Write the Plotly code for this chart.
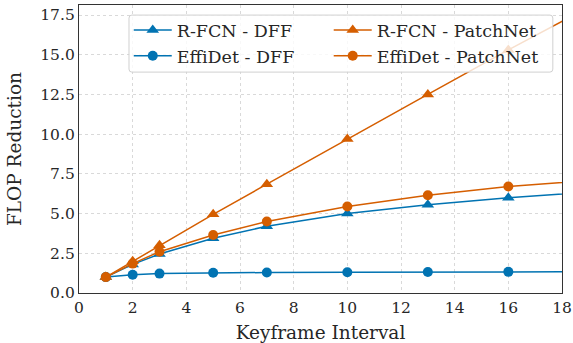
import plotly.graph_objects as go

x_vals = [1, 2, 3, 5, 7, 10, 13, 16, 20]
rfcn_dff = [1.0, 1.8, 2.45, 3.45, 4.2, 5.0, 5.55, 6.0, 6.45]
effidet_dff = [1.0, 1.15, 1.22, 1.27, 1.29, 1.31, 1.32, 1.33, 1.34]
rfcn_patchnet = [1.0, 2.0, 3.0, 4.95, 6.85, 9.7, 12.5, 15.3, 18.9]
effidet_patchnet = [1.0, 1.85, 2.6, 3.65, 4.5, 5.45, 6.15, 6.7, 7.2]

x_ticks = [0, 2, 4, 6, 8, 10, 12, 14, 16, 18]
y_ticks = [0, 2.5, 5.0, 7.5, 10.0, 12.5, 15.0, 17.5]

BLUE = "#0173b2"
ORANGE = "#d55e00"

fig = go.Figure()
series = [
    ("R-FCN - DFF", rfcn_dff, BLUE, "triangle-up", "legend"),
    ("EffiDet - DFF", effidet_dff, BLUE, "circle", "legend"),
    ("R-FCN - PatchNet", rfcn_patchnet, ORANGE, "triangle-up", "legend2"),
    ("EffiDet - PatchNet", effidet_patchnet, ORANGE, "circle", "legend2"),
]
for name, ys, col, sym, leg in series:
    fig.add_trace(go.Scatter(
        x=x_vals, y=ys, name=name, mode="lines+markers", legend=leg,
        line=dict(color=col, width=1.5),
        marker=dict(symbol=sym, size=10 if sym == "circle" else 11, color=col),
    ))

FF = "DejaVu Serif"
TXT = "#262626"
leg_common = dict(
    orientation="v", yanchor="top", xanchor="left", y=0.975,
    bgcolor="rgba(0,0,0,0)", borderwidth=0, itemwidth=38,
    font=dict(size=17.5, family=FF, color=TXT), tracegroupgap=0,
)

# legend frame (semi-transparent, rounded)
x0, x1, y0, y1 = 0.1035, 0.981, 0.767, 0.965
rx, ry = 0.006, 0.0104
frame_path = (f"M {x0+rx},{y1} L {x1-rx},{y1} Q {x1},{y1} {x1},{y1-ry} "
              f"L {x1},{y0+ry} Q {x1},{y0} {x1-rx},{y0} L {x0+rx},{y0} "
              f"Q {x0},{y0} {x0},{y0+ry} L {x0},{y1-ry} Q {x0},{y1} {x0+rx},{y1} Z")

fig.update_layout(
    width=573, height=343,
    margin=dict(l=79, r=11, t=5, b=50, autoexpand=False),
    paper_bgcolor="white", plot_bgcolor="white",
    font=dict(family=FF, size=15, color=TXT),
    legend=dict(x=0.103, **leg_common),
    legend2=dict(x=0.517, **leg_common),
    shapes=[dict(type="path", path=frame_path, xref="paper", yref="paper", layer="above",
                 fillcolor="rgba(255,255,255,0.8)", line=dict(color="#d0d0d0", width=1))],
    xaxis=dict(
        range=[0, 18], tickvals=x_ticks, automargin=False,
        title=dict(text="Keyframe Interval", font=dict(size=18.5, family=FF, color=TXT), standoff=11),
        showgrid=True, gridcolor="#d9d9d9", griddash="dot", gridwidth=1,
        showline=True, linecolor="#333333", linewidth=1.3, mirror=True,
        zeroline=False, ticks="", tickfont=dict(size=15.5, family=FF, color=TXT),
    ),
    yaxis=dict(
        range=[0, 18.13], tickvals=y_ticks, tickformat=".1f", automargin=False,
        title=dict(text="FLOP Reduction", font=dict(size=18.5, family=FF, color=TXT), standoff=13),
        showgrid=True, gridcolor="#d9d9d9", griddash="dot", gridwidth=1,
        showline=True, linecolor="#333333", linewidth=1.3, mirror=True,
        zeroline=False, ticks="", tickfont=dict(size=15.5, family=FF, color=TXT),
    ),
)

fig.write_html("out.html", config={"displayModeBar": False},
               post_script="document.body.style.margin='0';")
